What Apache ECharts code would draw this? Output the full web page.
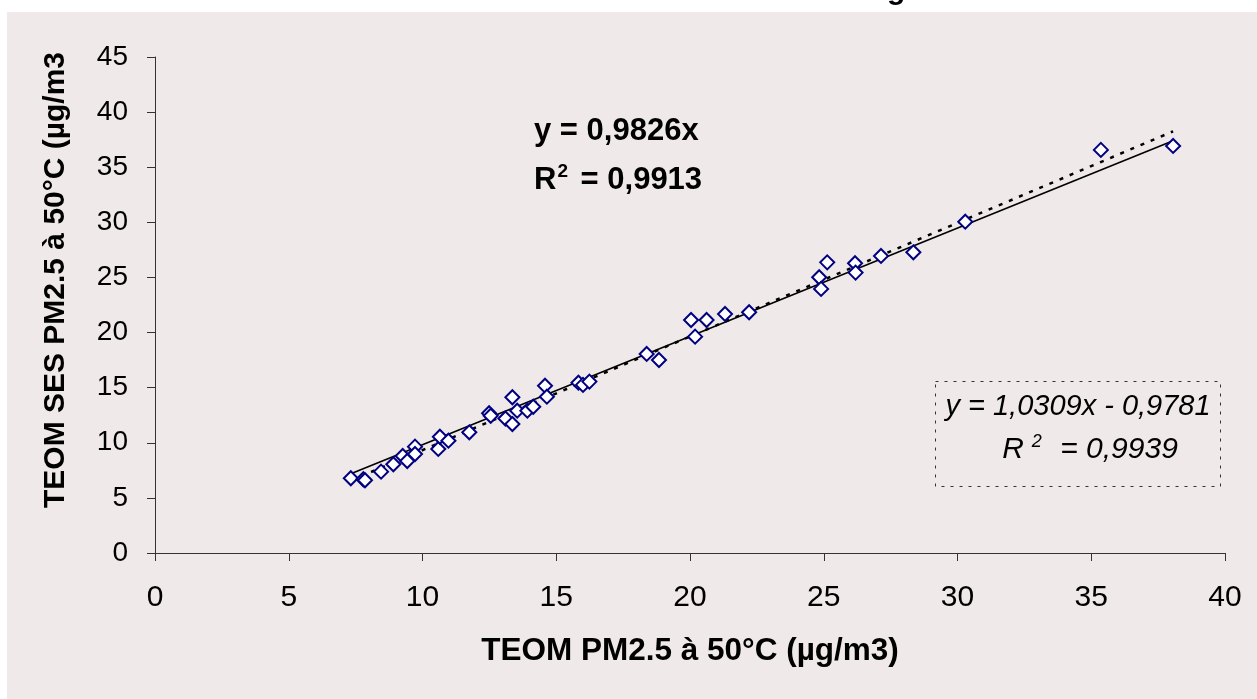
<!DOCTYPE html>
<html>
<head>
<meta charset="utf-8">
<script src="https://cdn.jsdelivr.net/npm/echarts@6/dist/echarts.min.js"></script>
<style>
html,body{margin:0;padding:0;background:#ffffff;}
#chart{width:1257px;height:699px;}
</style>
</head>
<body>
<div id="chart"></div>
<script>
// ---- data ----
const xValues = [7.32, 7.79, 7.85, 8.45, 8.91, 9.26, 9.43, 9.72, 9.72, 10.59, 10.65, 10.97, 11.75,
  12.49, 12.55, 13.10, 13.36, 13.36, 13.54, 13.92, 14.14, 14.58, 14.65, 15.83, 16.00, 16.24,
  18.38, 18.84, 20.04, 20.19, 20.62, 21.31, 22.21, 24.83, 24.90, 25.13, 26.17, 26.19, 27.14,
  28.35, 30.29, 35.36, 38.06];
const yValues = [6.78, 6.69, 6.60, 7.38, 8.05, 8.80, 8.35, 9.65, 8.98, 9.44, 10.55, 10.19, 10.95,
  12.68, 12.45, 12.20, 14.13, 11.70, 12.91, 12.91, 13.27, 15.18, 14.18, 15.45, 15.25, 15.55,
  18.06, 17.51, 21.14, 19.63, 21.14, 21.69, 21.84, 25.02, 23.96, 26.37, 26.29, 25.44, 26.95,
  27.28, 30.06, 36.57, 36.93];
const originSlope = 0.9826;      // y = 0,9826x
const linSlope = 1.0309;         // y = 1,0309x - 0,9781
const linIntercept = -0.9781;
const xTicks = [0, 5, 10, 15, 20, 25, 30, 35, 40];
const yTicks = [0, 5, 10, 15, 20, 25, 30, 35, 40, 45];
const xTitle = 'TEOM PM2.5 à 50°C (µg/m3)';
const yTitle = 'TEOM SES PM2.5 à 50°C (µg/m3';

const points = xValues.map((x, i) => [x, yValues[i]]);
const xMin = Math.min(...xValues), xMax = Math.max(...xValues);
const originLine = [[xMin, originSlope * xMin], [xMax, originSlope * xMax]];
const linLine = [[xMin, linSlope * xMin + linIntercept], [xMax, linSlope * xMax + linIntercept]];

const FONT = "'Liberation Sans', Arial, sans-serif";
const BG = '#EFE9E9';

const chart = echarts.init(document.getElementById('chart'), null, {renderer: 'canvas'});
chart.setOption({
  backgroundColor: '#ffffff',
  animation: false,
  graphic: [
    {type: 'text', silent: true, z: -20, x: 887, y: -24,
      style: {text: 'g', font: "bold 30px " + FONT, fill: '#000', align: 'left', verticalAlign: 'top'}},
    {type: 'rect', z: -10, silent: true, shape: {x: 7, y: 12, width: 1250, height: 687}, style: {fill: BG}},
    {type: 'rect', silent: true, shape: {x: 935.5, y: 381.5, width: 285, height: 105},
      style: {fill: 'none', stroke: '#333', lineWidth: 1, lineDash: [3, 6]}},
    {type: 'text', silent: true, x: 1078, y: 407,
      style: {text: 'y = 1,0309x - 0,9781', font: "italic 29px " + FONT, fill: '#000', align: 'center', verticalAlign: 'middle'}},
    {type: 'text', silent: true, x: 1090, y: 450,
      style: {text: '{r|R}{s|2}{r| = 0,9939}', align: 'center', verticalAlign: 'middle',
        rich: {r: {font: "italic 30px " + FONT, fill: '#000', lineHeight: 34},
               s: {font: "italic 18px " + FONT, fill: '#000', verticalAlign: 'top', padding: [0, 10, 0, 8]}}}},
    {type: 'text', silent: true, x: 534, y: 131,
      style: {text: 'y = 0,9826x', font: "bold 31px " + FONT, fill: '#000', align: 'left', verticalAlign: 'middle'}},
    {type: 'text', silent: true, x: 534, y: 180,
      style: {text: '{r|R}{s|2}{r| = 0,9913}', align: 'left', verticalAlign: 'middle',
        rich: {r: {font: "bold 31px " + FONT, fill: '#000', lineHeight: 36},
               s: {font: "bold 19px " + FONT, fill: '#000', verticalAlign: 'top', padding: [0, 4, 0, 1]}}}}
  ],
  grid: {left: 155, right: 32, top: 57, bottom: 146, containLabel: false},
  xAxis: {
    type: 'value', min: xTicks[0], max: xTicks[xTicks.length - 1], interval: 5,
    splitLine: {show: false},
    axisLine: {show: true, onZero: false, lineStyle: {color: '#333', width: 1}},
    axisTick: {show: true, length: 8, inside: false, lineStyle: {color: '#333'}},
    axisLabel: {margin: 30, fontSize: 30, fontFamily: FONT, color: '#000'},
    name: xTitle, nameLocation: 'middle', nameGap: 82,
    nameTextStyle: {fontSize: 31.5, fontWeight: 'bold', fontFamily: FONT, color: '#000'}
  },
  yAxis: {
    type: 'value', min: yTicks[0], max: yTicks[yTicks.length - 1], interval: 5,
    splitLine: {show: false},
    axisLine: {show: true, onZero: false, lineStyle: {color: '#333', width: 1}},
    axisTick: {show: true, length: 8, inside: false, lineStyle: {color: '#333'}},
    axisLabel: {margin: 27, fontSize: 28, fontFamily: FONT, color: '#000'},
    name: yTitle, nameLocation: 'middle', nameGap: 84, nameRotate: 90,
    nameTextStyle: {fontSize: 30, fontWeight: 'bold', fontFamily: FONT, color: '#000', padding: [0, 0, 0, 50]}
  },
  series: [
    {type: 'line', data: linLine, symbol: 'none', z: 3, silent: true,
      lineStyle: {color: '#000', width: 2.5, type: [4, 7]}},
    {type: 'line', data: originLine, symbol: 'none', z: 3, silent: true,
      lineStyle: {color: '#000', width: 1.6, type: 'solid'}},
    {type: 'scatter', data: points, symbol: 'diamond', symbolSize: 14, z: 4,
      itemStyle: {color: '#ffffff', borderColor: '#000080', borderWidth: 2, opacity: 1}}
  ]
});
</script>
</body>
</html>
